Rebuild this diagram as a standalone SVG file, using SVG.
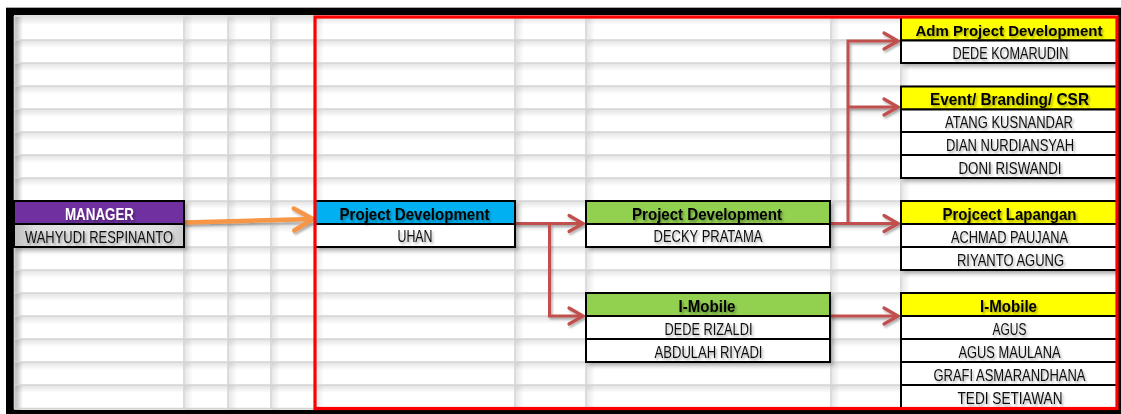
<svg xmlns="http://www.w3.org/2000/svg" width="1121" height="414" viewBox="0 0 1121 414">
<defs>
<style>
.grid line{stroke:#d4d4d4;stroke-width:1.6}
.cell{stroke:#000;stroke-width:2}
.nm{fill:#fff}
.h{font-family:"Liberation Sans",Arial,sans-serif;font-weight:bold;font-size:16.5px;text-anchor:middle;fill:#000;filter:url(#ts)}
.n{font-family:"Liberation Sans",Arial,sans-serif;font-size:16.5px;text-anchor:middle;fill:#111;filter:url(#ts)}
.con{fill:none;stroke:#c0504d;stroke-width:3;marker-end:url(#ar)}
</style>
<filter id="ts" x="-10%" y="-30%" width="130%" height="180%"><feDropShadow dx="1.5" dy="2" stdDeviation="1.3" flood-color="#000" flood-opacity="0.35"/></filter>
<filter id="bs" x="-5%" y="-10%" width="115%" height="140%"><feDropShadow dx="3" dy="3" stdDeviation="2" flood-color="#000" flood-opacity="0.3"/></filter>
<filter id="cs" x="-10%" y="-10%" width="130%" height="130%"><feDropShadow dx="1.5" dy="2" stdDeviation="1.2" flood-color="#000" flood-opacity="0.3"/></filter>
<linearGradient id="rowg" x1="0" y1="0" x2="0" y2="1"><stop offset="0" stop-color="#e2e2e2"/><stop offset="0.35" stop-color="#fff"/><stop offset="1" stop-color="#fff"/></linearGradient>
<linearGradient id="colg" x1="0" y1="0" x2="1" y2="0"><stop offset="0" stop-color="#000" stop-opacity="0.09"/><stop offset="1" stop-color="#000" stop-opacity="0"/></linearGradient>
<linearGradient id="leftg" x1="0" y1="0" x2="1" y2="0"><stop offset="0" stop-color="#000" stop-opacity="0.3"/><stop offset="1" stop-color="#000" stop-opacity="0"/></linearGradient>
<linearGradient id="grayg" x1="0" y1="0" x2="1" y2="0"><stop offset="0" stop-color="#bdbdbd"/><stop offset="0.12" stop-color="#dedede"/><stop offset="0.5" stop-color="#e6e6e6"/><stop offset="0.9" stop-color="#dedede"/><stop offset="1" stop-color="#c8c8c8"/></linearGradient>
<pattern id="rows" patternUnits="userSpaceOnUse" x="0" y="17" width="1121" height="23"><rect width="1121" height="23" fill="url(#rowg)"/></pattern>
<marker id="ar" markerUnits="userSpaceOnUse" markerWidth="24" markerHeight="24" viewBox="-18 -12 24 24" refX="0" refY="0" orient="auto"><path d="M-14,-8 L0,0 L-14,8" fill="none" stroke="#c0504d" stroke-width="3.2" stroke-linecap="round"/></marker>
<marker id="ao" markerUnits="userSpaceOnUse" markerWidth="30" markerHeight="30" viewBox="-24 -15 30 30" refX="0" refY="0" orient="auto"><path d="M-19,-11 L0,0 L-19,11" fill="none" stroke="#f79646" stroke-width="4.5" stroke-linecap="round"/></marker>
</defs>

<g id="frame">
<rect x="6" y="7" width="1115" height="407" fill="#000"/>
<line x1="6" y1="7.5" x2="1121" y2="7.5" stroke="#aaa" stroke-width="1"/>
<rect x="14" y="15" width="1104" height="395" fill="#fff"/>
<rect x="14" y="15" width="1104" height="395" fill="url(#rows)"/>
</g>

<g class="grid" id="grid">
<rect x="14" y="15" width="9" height="395" fill="url(#leftg)"/>
<rect x="185" y="15" width="8" height="395" fill="url(#colg)"/>
<rect x="229" y="15" width="8" height="395" fill="url(#colg)"/>
<rect x="272" y="15" width="8" height="395" fill="url(#colg)"/>
<rect x="316" y="15" width="8" height="395" fill="url(#colg)"/>
<rect x="516" y="15" width="8" height="395" fill="url(#colg)"/>
<rect x="587" y="15" width="8" height="395" fill="url(#colg)"/>
<rect x="832" y="15" width="8" height="395" fill="url(#colg)"/>
<rect x="902" y="15" width="8" height="395" fill="url(#colg)"/>
<line x1="14" y1="16" x2="1117" y2="16"/>
<line x1="14" y1="40" x2="1117" y2="40"/>
<line x1="14" y1="63" x2="1117" y2="63"/>
<line x1="14" y1="86" x2="1117" y2="86"/>
<line x1="14" y1="109" x2="1117" y2="109"/>
<line x1="14" y1="132" x2="1117" y2="132"/>
<line x1="14" y1="155" x2="1117" y2="155"/>
<line x1="14" y1="178" x2="1117" y2="178"/>
<line x1="14" y1="201" x2="1117" y2="201"/>
<line x1="14" y1="224" x2="1117" y2="224"/>
<line x1="14" y1="247" x2="1117" y2="247"/>
<line x1="14" y1="270" x2="1117" y2="270"/>
<line x1="14" y1="293" x2="1117" y2="293"/>
<line x1="14" y1="316" x2="1117" y2="316"/>
<line x1="14" y1="339" x2="1117" y2="339"/>
<line x1="14" y1="362" x2="1117" y2="362"/>
<line x1="14" y1="385" x2="1117" y2="385"/>
<line x1="14" y1="408.5" x2="1117" y2="408.5"/>
<line x1="14.5" y1="16" x2="14.5" y2="409"/>
<line x1="184" y1="16" x2="184" y2="409"/>
<line x1="228" y1="16" x2="228" y2="409"/>
<line x1="271" y1="16" x2="271" y2="409"/>
<line x1="515" y1="16" x2="515" y2="409"/>
<line x1="586" y1="16" x2="586" y2="409"/>
<line x1="831" y1="16" x2="831" y2="409"/>
<line x1="901" y1="16" x2="901" y2="409"/>
</g>

<g id="connectors">
<g filter="url(#cs)">
<path d="M184,222.5 L313,219" fill="none" stroke="#f79646" stroke-width="4.5" marker-end="url(#ao)"/>
<path class="con" d="M515,223.5 H583"/>
<path class="con" d="M549.5,223.5 V316 H583"/>
<path class="con" d="M830,223.5 H898"/>
<path class="con" d="M848,223.5 V41 H898"/>
<path class="con" d="M848,107 H898"/>
<path class="con" d="M830,316 H898"/>
</g>
</g>

<g id="node-manager">
<rect x="14" y="201" width="170" height="46" fill="#fff" filter="url(#bs)"/>
<rect class="cell" x="14" y="201" width="170" height="23" fill="#7030a0"/>
<rect class="cell" x="14" y="224" width="170" height="23" fill="url(#grayg)"/>
<text class="h" x="99.5" y="219.5" style="fill:#fff" textLength="69" lengthAdjust="spacingAndGlyphs">MANAGER</text>
<text class="n" x="99" y="242.5" textLength="148" lengthAdjust="spacingAndGlyphs">WAHYUDI RESPINANTO</text>
</g>

<g id="node-pd-uhan">
<rect x="315" y="201" width="200" height="46" fill="#fff" filter="url(#bs)"/>
<rect class="cell" x="315" y="201" width="200" height="23" fill="#00b0f0"/>
<rect class="cell nm" x="315" y="224" width="200" height="23"/>
<text class="h" x="414.5" y="219.5" textLength="150" lengthAdjust="spacingAndGlyphs">Project Development</text>
<text class="n" x="415" y="242" textLength="35" lengthAdjust="spacingAndGlyphs">UHAN</text>
</g>

<g id="node-pd-decky">
<rect x="586" y="201" width="244" height="46" fill="#fff" filter="url(#bs)"/>
<rect class="cell" x="586" y="201" width="244" height="23" fill="#92d050"/>
<rect class="cell nm" x="586" y="224" width="244" height="23"/>
<text class="h" x="707" y="219.5" textLength="150" lengthAdjust="spacingAndGlyphs">Project Development</text>
<text class="n" x="708" y="242" textLength="109" lengthAdjust="spacingAndGlyphs">DECKY PRATAMA</text>
</g>

<g id="node-imobile-green">
<rect x="586" y="293" width="244" height="69" fill="#fff" filter="url(#bs)"/>
<rect class="cell" x="586" y="293" width="244" height="23" fill="#92d050"/>
<rect class="cell nm" x="586" y="316" width="244" height="23"/>
<rect class="cell nm" x="586" y="339" width="244" height="23"/>
<text class="h" x="707" y="311.5" textLength="57" lengthAdjust="spacingAndGlyphs">I-Mobile</text>
<text class="n" x="708.5" y="334.5" textLength="88" lengthAdjust="spacingAndGlyphs">DEDE RIZALDI</text>
<text class="n" x="708.5" y="357.5" textLength="108" lengthAdjust="spacingAndGlyphs">ABDULAH RIYADI</text>
</g>

<g id="node-adm">
<rect x="901" y="17" width="216" height="46" fill="#fff" filter="url(#bs)"/>
<rect class="cell" x="901" y="17" width="216" height="23.5" fill="#ffff00"/>
<rect class="cell nm" x="901" y="40.5" width="216" height="22.5"/>
<text class="h" x="1009" y="35.5" style="font-size:15.5px" textLength="187" lengthAdjust="spacingAndGlyphs">Adm Project Development</text>
<text class="n" x="1010.5" y="58.5" textLength="116" lengthAdjust="spacingAndGlyphs">DEDE KOMARUDIN</text>
</g>

<g id="node-event">
<rect x="901" y="86.5" width="216" height="91.5" fill="#fff" filter="url(#bs)"/>
<rect class="cell" x="901" y="86.5" width="216" height="23" fill="#ffff00"/>
<rect class="cell nm" x="901" y="109.5" width="216" height="22.5"/>
<rect class="cell nm" x="901" y="132" width="216" height="23"/>
<rect class="cell nm" x="901" y="155" width="216" height="23"/>
<text class="h" x="1009.5" y="105" textLength="159" lengthAdjust="spacingAndGlyphs">Event/ Branding/ CSR</text>
<text class="n" x="1009" y="127.5" textLength="128" lengthAdjust="spacingAndGlyphs">ATANG KUSNANDAR</text>
<text class="n" x="1010" y="150.5" textLength="128" lengthAdjust="spacingAndGlyphs">DIAN NURDIANSYAH</text>
<text class="n" x="1010" y="173.5" textLength="103" lengthAdjust="spacingAndGlyphs">DONI RISWANDI</text>
</g>

<g id="node-lapangan">
<rect x="901" y="201" width="216" height="69" fill="#fff" filter="url(#bs)"/>
<rect class="cell" x="901" y="201" width="216" height="23" fill="#ffff00"/>
<rect class="cell nm" x="901" y="224" width="216" height="23"/>
<rect class="cell nm" x="901" y="247" width="216" height="23"/>
<text class="h" x="1009.5" y="219.5" textLength="134" lengthAdjust="spacingAndGlyphs">Projcect Lapangan</text>
<text class="n" x="1009.5" y="242.5" textLength="117" lengthAdjust="spacingAndGlyphs">ACHMAD PAUJANA</text>
<text class="n" x="1010.5" y="265.5" textLength="107" lengthAdjust="spacingAndGlyphs">RIYANTO AGUNG</text>
</g>

<g id="node-imobile-yellow">
<rect x="901" y="293" width="216" height="115" fill="#fff" filter="url(#bs)"/>
<rect class="cell" x="901" y="293" width="216" height="23" fill="#ffff00"/>
<rect class="cell nm" x="901" y="316" width="216" height="23"/>
<rect class="cell nm" x="901" y="339" width="216" height="23"/>
<rect class="cell nm" x="901" y="362" width="216" height="23"/>
<rect class="cell nm" x="901" y="385" width="216" height="23"/>
<text class="h" x="1008.5" y="311.5" textLength="57" lengthAdjust="spacingAndGlyphs">I-Mobile</text>
<text class="n" x="1009.5" y="334.5" textLength="34" lengthAdjust="spacingAndGlyphs">AGUS</text>
<text class="n" x="1009.5" y="357.5" textLength="102" lengthAdjust="spacingAndGlyphs">AGUS MAULANA</text>
<text class="n" x="1009.5" y="380.5" style="font-size:16px" textLength="152" lengthAdjust="spacingAndGlyphs">GRAFI ASMARANDHANA</text>
<text class="n" x="1010" y="403.5" textLength="105" lengthAdjust="spacingAndGlyphs">TEDI SETIAWAN</text>
</g>

<rect id="red-frame" x="315" y="17" width="802" height="391.5" fill="none" stroke="#ff0000" stroke-width="3.2"/>
</svg>
